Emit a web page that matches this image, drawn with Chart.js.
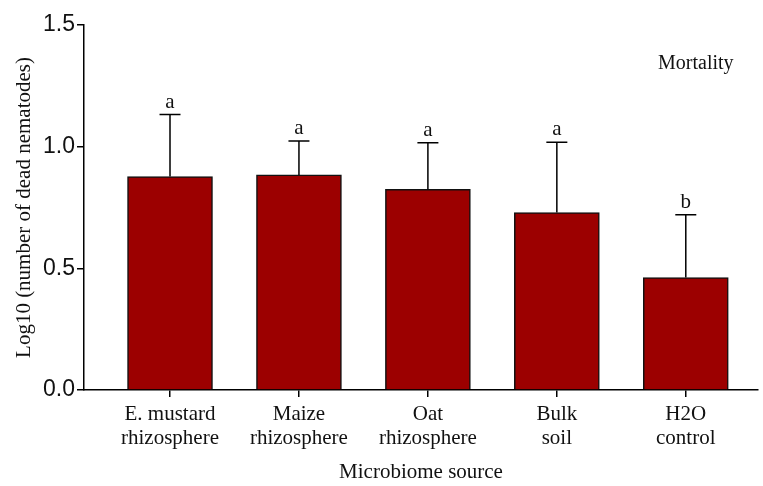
<!DOCTYPE html>
<html>
<head>
<meta charset="utf-8">
<script src="https://cdn.jsdelivr.net/npm/chart.js@4.4.1/dist/chart.umd.min.js"></script>
<style>
  html, body { margin: 0; padding: 0; background: #fff; }
  #wrap { width: 763px; height: 486px; }
</style>
</head>
<body>
<div id="wrap"><canvas id="chart" width="763" height="486"></canvas></div>
<script>
const categories = [
  ['E. mustard', 'rhizosphere'],
  ['Maize', 'rhizosphere'],
  ['Oat', 'rhizosphere'],
  ['Bulk', 'soil'],
  ['H2O', 'control']
];
const means = [0.877, 0.884, 0.825, 0.729, 0.462];
const errors = [0.255, 0.139, 0.191, 0.289, 0.258];
const letters = ['a', 'a', 'a', 'a', 'b'];
const yTicks = [0, 0.5, 1.0, 1.5];

const serif = '"Liberation Serif", "Times New Roman", serif';
const sans = '"Liberation Sans", Arial, sans-serif';

// error bars + significance letters
const errorBars = {
  id: 'errorBars',
  afterDatasetsDraw(chart) {
    const ctx = chart.ctx;
    const x = chart.scales.x, y = chart.scales.y;
    ctx.save();
    ctx.strokeStyle = '#000';
    ctx.lineWidth = 1.5;
    ctx.fillStyle = '#111';
    ctx.font = '21px ' + serif;
    ctx.textAlign = 'center';
    ctx.textBaseline = 'alphabetic';
    means.forEach((m, i) => {
      const px = x.getPixelForValue(i);
      const y0 = y.getPixelForValue(m);
      const y1 = y.getPixelForValue(m + errors[i]);
      ctx.beginPath();
      ctx.moveTo(px, y0);
      ctx.lineTo(px, y1);
      ctx.moveTo(px - 10.5, y1);
      ctx.lineTo(px + 10.5, y1);
      ctx.stroke();
      ctx.fillText(letters[i], px, y1 - 7);
    });
    ctx.font = '20px ' + serif;
    ctx.textAlign = 'left';
    ctx.textBaseline = 'middle';
    ctx.fillText('Mortality', 658, 64);
    ctx.restore();
  }
};

new Chart(document.getElementById('chart'), {
  type: 'bar',
  data: {
    datasets: [{
      data: means.map((v, i) => ({ x: i, y: v })),
      backgroundColor: '#9c0000',
      borderColor: '#111',
      borderWidth: 1.5,
      barThickness: 85
    }]
  },
  options: {
    responsive: false,
    animation: false,
    layout: { padding: { top: 25, right: 5, left: 0, bottom: 0 } },
    plugins: { legend: { display: false }, tooltip: { enabled: false } },
    scales: {
      x: {
        type: 'linear',
        offset: false,
        min: -0.667,
        max: 4.56,
        afterBuildTicks: s => { s.ticks = categories.map((c, i) => ({ value: i })); },
        afterFit: s => { s.height = 96; },
        grid: { display: true, offset: false, drawOnChartArea: false, drawTicks: true, tickLength: 7, color: '#000', lineWidth: 1.5 },
        border: { display: true, color: '#000', width: 1.5 },
        ticks: {
          callback: v => categories[v],
          font: { family: serif, size: 21, lineHeight: 1.15 },
          color: '#111',
          padding: 5,
          maxRotation: 0,
          autoSkip: false
        },
        title: {
          display: true,
          text: 'Microbiome source',
          font: { family: serif, size: 21 },
          color: '#111',
          padding: { top: 4, bottom: 1 }
        }
      },
      y: {
        min: 0,
        max: 1.5,
        afterBuildTicks: s => { s.ticks = yTicks.map(v => ({ value: v })); },
        afterFit: s => { s.width = 84; },
        grid: { display: true, drawOnChartArea: false, drawTicks: true, tickLength: 7, color: '#000', lineWidth: 1.5 },
        border: { display: true, color: '#000', width: 1.5 },
        ticks: {
          callback: v => v.toFixed(1),
          font: { family: sans, size: 23 },
          color: '#111',
          padding: 2
        },
        title: {
          display: true,
          text: 'Log10 (number of dead nematodes)',
          font: { family: serif, size: 21 },
          color: '#111',
          padding: { top: 12, bottom: 0 }
        }
      }
    }
  },
  plugins: [errorBars]
});
</script>
</body>
</html>
